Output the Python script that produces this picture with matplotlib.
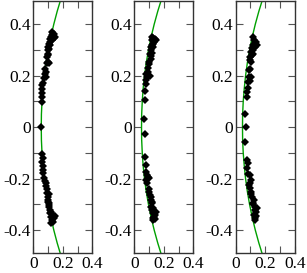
import matplotlib
matplotlib.use("Agg")
import matplotlib.pyplot as plt
from matplotlib.ticker import MultipleLocator, FixedFormatter, FixedLocator

plt.rcParams['font.family'] = ['Liberation Serif', 'DejaVu Serif']
plt.rcParams['axes.unicode_minus'] = False

# measured points, one (y, x) list per panel
pts1 = [(0.0, 0.054), (0.098, 0.061), (0.117, 0.062), (0.133, 0.061), (0.15, 0.062),
        (0.163, 0.061), (0.172, 0.063), (0.189, 0.072), (0.208, 0.080), (0.214, 0.086),
        (0.195, 0.084), (0.249, 0.092), (0.253, 0.103), (0.249, 0.108), (0.272, 0.094),
        (0.286, 0.097), (0.298, 0.100), (0.311, 0.102), (0.324, 0.106), (0.331, 0.112),
        (0.344, 0.115), (0.350, 0.122), (0.357, 0.127), (0.363, 0.132), (0.370, 0.128),
        (0.360, 0.140), (0.352, 0.145), (0.345, 0.140), (0.337, 0.124), (0.318, 0.110),
        (0.305, 0.105), (0.280, 0.097), (0.225, 0.082),
        (-0.106, 0.061), (-0.121, 0.063), (-0.134, 0.061), (-0.15, 0.063), (-0.167, 0.065),
        (-0.18, 0.064), (-0.199, 0.075), (-0.218, 0.084), (-0.23, 0.088), (-0.257, 0.093),
        (-0.258, 0.104), (-0.27, 0.100), (-0.283, 0.100), (-0.296, 0.104), (-0.309, 0.106),
        (-0.322, 0.111), (-0.335, 0.115), (-0.348, 0.122), (-0.36, 0.127), (-0.367, 0.134),
        (-0.373, 0.122), (-0.354, 0.140), (-0.345, 0.145), (-0.34, 0.136), (-0.328, 0.118),
        (-0.302, 0.108), (-0.29, 0.100), (-0.24, 0.090), (-0.21, 0.080)]

pts2 = [(0.03, 0.068), (0.107, 0.070), (0.141, 0.075), (0.169, 0.080), (0.182, 0.079),
        (0.193, 0.084), (0.205, 0.080), (0.214, 0.090), (0.20, 0.108), (0.247, 0.098),
        (0.255, 0.102), (0.266, 0.110), (0.286, 0.106), (0.298, 0.110), (0.288, 0.122),
        (0.311, 0.115), (0.324, 0.126), (0.337, 0.122), (0.347, 0.128), (0.343, 0.138),
        (0.337, 0.145), (0.33, 0.132), (0.31, 0.128), (0.275, 0.115), (0.23, 0.095),
        (0.35, 0.120), (0.32, 0.118),
        (-0.028, 0.072), (-0.117, 0.070), (-0.147, 0.077), (-0.173, 0.080), (-0.186, 0.086),
        (-0.199, 0.100), (-0.205, 0.082), (-0.218, 0.086), (-0.195, 0.092), (-0.251, 0.100),
        (-0.264, 0.106), (-0.283, 0.111), (-0.296, 0.122), (-0.309, 0.115), (-0.322, 0.122),
        (-0.335, 0.129), (-0.348, 0.134), (-0.357, 0.138), (-0.352, 0.124), (-0.33, 0.145),
        (-0.315, 0.130), (-0.29, 0.118), (-0.27, 0.112), (-0.24, 0.098), (-0.34, 0.140),
        (-0.36, 0.128)]

pts3 = [(0.0, 0.070), (0.053, 0.063), (0.117, 0.079), (0.137, 0.077), (0.154, 0.080),
        (0.176, 0.085), (0.18, 0.097), (0.193, 0.091), (0.195, 0.104), (0.221, 0.088),
        (0.227, 0.097), (0.252, 0.104), (0.271, 0.097), (0.279, 0.108), (0.283, 0.115),
        (0.291, 0.102), (0.307, 0.112), (0.32, 0.118), (0.325, 0.130), (0.337, 0.124),
        (0.33, 0.136), (0.32, 0.142), (0.31, 0.130), (0.35, 0.115), (0.30, 0.120),
        (0.26, 0.100),
        (-0.059, 0.063), (-0.128, 0.079), (-0.141, 0.081), (-0.158, 0.079), (-0.183, 0.086),
        (-0.186, 0.097), (-0.205, 0.104), (-0.225, 0.091), (-0.237, 0.097), (-0.251, 0.104),
        (-0.27, 0.111), (-0.283, 0.122), (-0.295, 0.115), (-0.309, 0.129), (-0.32, 0.134),
        (-0.331, 0.138), (-0.341, 0.122), (-0.354, 0.134), (-0.36, 0.128), (-0.315, 0.145),
        (-0.30, 0.120), (-0.26, 0.104), (-0.215, 0.094), (-0.345, 0.140)]

# green curve, x read at |y| (symmetric about y = 0)
curve_y = [0.0, 0.05, 0.1, 0.15, 0.2, 0.25, 0.3, 0.35, 0.4, 0.45, 0.5]
curve1 = [0.054, 0.055, 0.059, 0.065, 0.074, 0.086, 0.101, 0.119, 0.139, 0.162, 0.188]
curve2 = [0.049, 0.050, 0.054, 0.060, 0.069, 0.081, 0.096, 0.114, 0.135, 0.159, 0.186]
curve3 = [0.046, 0.047, 0.051, 0.058, 0.067, 0.079, 0.094, 0.112, 0.133, 0.157, 0.184]

fig = plt.figure(figsize=(3.07, 2.73), dpi=100)
lefts = [33.3, 134.3, 235.7]
for left, pts, cx in zip(lefts, [pts1, pts2, pts3], [curve1, curve2, curve3]):
    ax = fig.add_axes([left / 307, 19.7 / 273, 59 / 307, 252.3 / 273])
    neg_y = [-v for v in curve_y[::-1]]
    ax.plot(cx[::-1] + cx, neg_y + curve_y, color='#00a000', lw=1)
    ys = [p[0] for p in pts]
    xs = [p[1] for p in pts]
    ax.plot(xs, ys, 'D', color='black', ms=3.7, mew=0)
    ax.set_xlim(0, 0.4)
    ax.set_ylim(-0.49, 0.49)
    ax.xaxis.set_major_locator(FixedLocator([0, 0.2, 0.4]))
    ax.xaxis.set_major_formatter(FixedFormatter(['0', '0.2', '0.4']))
    ax.xaxis.set_minor_locator(MultipleLocator(0.1))
    ax.yaxis.set_major_locator(FixedLocator([-0.4, -0.2, 0, 0.2, 0.4]))
    ax.yaxis.set_major_formatter(FixedFormatter(['-0.4', '-0.2', '0', '0.2', '0.4']))
    ax.yaxis.set_minor_locator(MultipleLocator(0.1))
    ax.tick_params(which='both', direction='in', top=True, right=True,
                   length=5, width=0.8, color='#555555', labelsize=12.5, pad=2)
    for s in ax.spines.values():
        s.set_linewidth(1)
        s.set_color('#333333')

fig.savefig('out.png', dpi=100)
